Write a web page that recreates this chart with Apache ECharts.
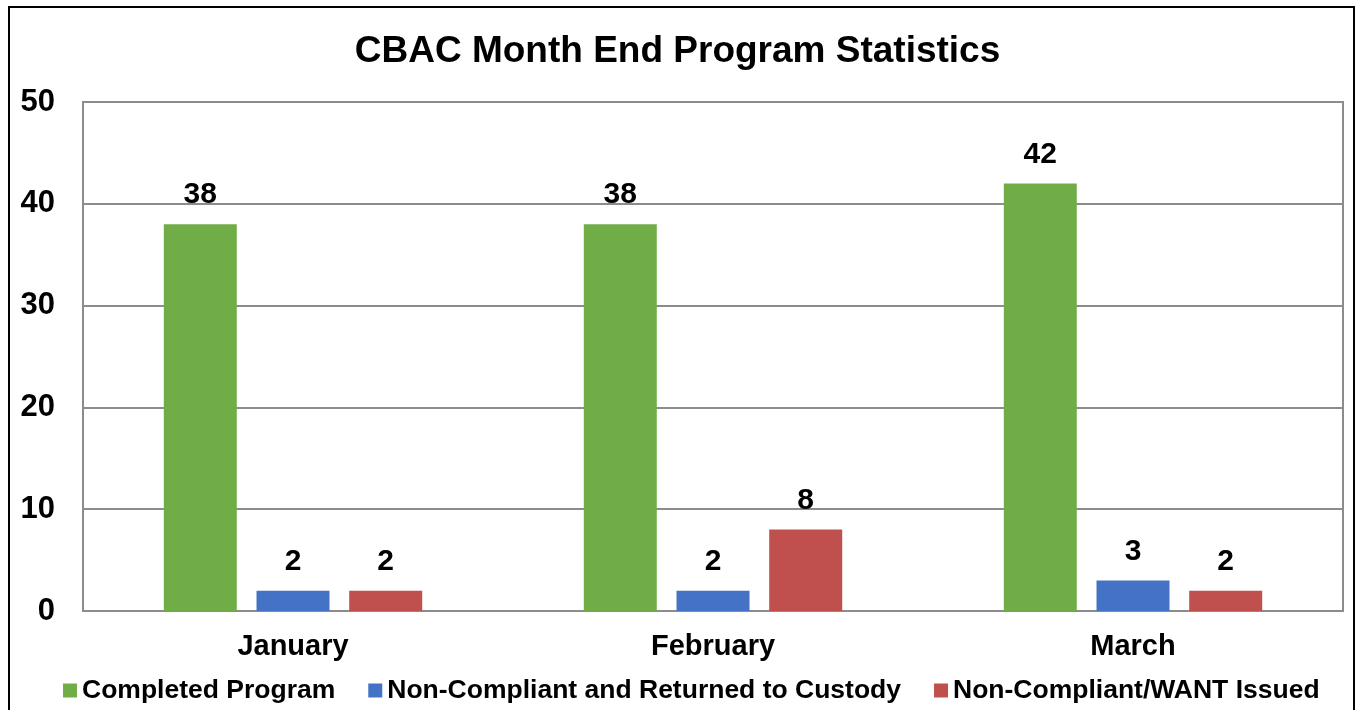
<!DOCTYPE html>
<html>
<head>
<meta charset="utf-8">
<script src="https://cdn.jsdelivr.net/npm/echarts@6/dist/echarts.min.js"></script>
<style>
  html, body { margin: 0; padding: 0; background: #fff; }
  #frame {
    position: absolute; left: 8px; top: 6px; width: 1347px; height: 720px;
    border: 2px solid #000; box-sizing: border-box;
  }
  #chart { position: absolute; left: 0; top: 0; width: 1355px; height: 710px; }
</style>
</head>
<body>
<div id="frame"></div>
<div id="chart"></div>
<script>
// chart data
const months = ['January', 'February', 'March']
const completed = [38, 38, 42]
const returnedToCustody = [2, 2, 3]
const wantIssued = [2, 8, 2]
const seriesNames = ['Completed Program', 'Non-Compliant and Returned to Custody', 'Non-Compliant/WANT Issued']
const colors = ['#70AD47', '#4472C4', '#C0504D']

const font = 'Liberation Sans, Arial, sans-serif'
const myChart = echarts.init(document.getElementById('chart'))

function barSeries(name, values, color) {
  return {
    name: name,
    type: 'bar',
    data: values,
    barWidth: 73,
    barGap: '27%',
    itemStyle: { color: color },
    label: {
      show: true,
      position: 'top',
      distance: 14,
      color: '#000',
      fontFamily: font,
      fontWeight: 'bold',
      fontSize: 30
    }
  }
}

const option = {
  animation: false,
  title: {
    text: 'CBAC Month End Program Statistics',
    left: 'center',
    top: 28,
    textStyle: { fontFamily: font, fontWeight: 'bold', fontSize: 37, color: '#000' }
  },
  legend: {
    left: 58,
    top: 672,
    itemWidth: 14,
    itemHeight: 14,
    itemGap: 33,
    icon: 'rect',
    data: seriesNames,
    textStyle: { fontFamily: font, fontWeight: 'bold', fontSize: 26.5, color: '#000' }
  },
  grid: {
    left: 83, right: 12, top: 102, bottom: 99,
    show: true, borderColor: '#8c8c8c', borderWidth: 2
  },
  xAxis: {
    type: 'category',
    data: months,
    axisLine: { lineStyle: { color: '#8c8c8c', width: 2 } },
    axisTick: { show: false },
    axisLabel: { margin: 21, color: '#000', fontFamily: font, fontWeight: 'bold', fontSize: 29 }
  },
  yAxis: {
    type: 'value',
    min: 0,
    max: 50,
    interval: 10,
    axisLine: { show: false },
    axisTick: { show: false },
    splitLine: { lineStyle: { color: '#8c8c8c', width: 2 } },
    axisLabel: { margin: 28, color: '#000', fontFamily: font, fontWeight: 'bold', fontSize: 31 }
  },
  series: [
    barSeries(seriesNames[0], completed, colors[0]),
    barSeries(seriesNames[1], returnedToCustody, colors[1]),
    barSeries(seriesNames[2], wantIssued, colors[2])
  ]
}

myChart.setOption(option)
</script>
</body>
</html>
